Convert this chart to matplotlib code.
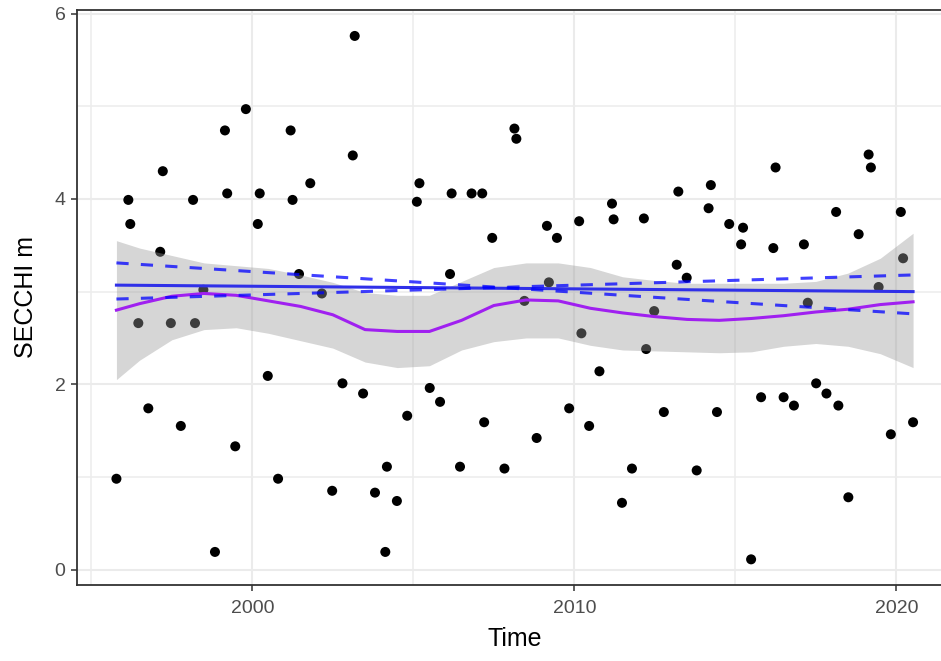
import matplotlib
matplotlib.use("Agg")
import matplotlib.pyplot as plt
from matplotlib.ticker import MultipleLocator

# ---- data ----
time = [1995.78, 1996.15, 1996.21, 1996.46, 1996.77, 1997.14, 1997.22, 1997.47, 1997.78, 1998.16,
        1998.22, 1998.48, 1998.84, 1999.15, 1999.22, 1999.47, 1999.80, 2000.17, 2000.23, 2000.48,
        2000.80, 2001.19, 2001.25, 2001.45, 2001.80, 2002.16, 2002.48, 2002.80, 2003.12, 2003.18,
        2003.44, 2003.81, 2004.13, 2004.18, 2004.49, 2004.81, 2005.11, 2005.19, 2005.51, 2005.83,
        2006.14, 2006.19, 2006.45, 2006.81, 2007.14, 2007.20, 2007.45, 2007.83, 2008.14, 2008.20,
        2008.45, 2008.83, 2009.15, 2009.21, 2009.46, 2009.84, 2010.15, 2010.22, 2010.46, 2010.78,
        2011.17, 2011.22, 2011.48, 2011.79, 2012.16, 2012.23, 2012.48, 2012.78, 2013.18, 2013.23,
        2013.49, 2013.80, 2014.17, 2014.24, 2014.43, 2014.81, 2015.18, 2015.24, 2015.49, 2015.80,
        2016.18, 2016.25, 2016.50, 2016.82, 2017.13, 2017.25, 2017.51, 2017.83, 2018.13, 2018.20,
        2018.51, 2018.83, 2019.14, 2019.21, 2019.45, 2019.83, 2020.14, 2020.21, 2020.52]
secchi = [0.98, 3.99, 3.73, 2.66, 1.74, 3.43, 4.30, 2.66, 1.55, 3.99,
          2.66, 3.02, 0.19, 4.74, 4.06, 1.33, 4.97, 3.73, 4.06, 2.09,
          0.98, 4.74, 3.99, 3.19, 4.17, 2.98, 0.85, 2.01, 4.47, 5.76,
          1.90, 0.83, 0.19, 1.11, 0.74, 1.66, 3.97, 4.17, 1.96, 1.81,
          3.19, 4.06, 1.11, 4.06, 4.06, 1.59, 3.58, 1.09, 4.76, 4.65,
          2.90, 1.42, 3.71, 3.10, 3.58, 1.74, 3.76, 2.55, 1.55, 2.14,
          3.95, 3.78, 0.72, 1.09, 3.79, 2.38, 2.79, 1.70, 3.29, 4.08,
          3.15, 1.07, 3.90, 4.15, 1.70, 3.73, 3.51, 3.69, 0.11, 1.86,
          3.47, 4.34, 1.86, 1.77, 3.51, 2.88, 2.01, 1.90, 3.86, 1.77,
          0.78, 3.62, 4.48, 4.34, 3.05, 1.46, 3.86, 3.36, 1.59]

# loess smooth and its confidence band
smooth_time = [1995.78, 1996.5, 1997.5, 1998.5, 1999.5, 2000.5, 2001.5, 2002.5, 2003.5, 2004.5,
               2005.5, 2006.5, 2007.5, 2008.5, 2009.5, 2010.5, 2011.5, 2012.5, 2013.5, 2014.5,
               2015.5, 2016.5, 2017.5, 2018.5, 2019.5, 2020.52]
smooth_fit = [2.80, 2.87, 2.95, 2.98, 2.96, 2.90, 2.84, 2.75, 2.59, 2.57,
              2.57, 2.69, 2.85, 2.91, 2.90, 2.82, 2.77, 2.73, 2.70, 2.69,
              2.71, 2.74, 2.78, 2.81, 2.86, 2.89]
smooth_hi = [3.55, 3.47, 3.39, 3.31, 3.28, 3.25, 3.18, 3.10, 2.99, 2.96,
             2.96, 3.11, 3.26, 3.31, 3.31, 3.26, 3.16, 3.12, 3.09, 3.09,
             3.09, 3.09, 3.11, 3.20, 3.36, 3.63]
smooth_lo = [2.05, 2.26, 2.48, 2.59, 2.61, 2.55, 2.47, 2.39, 2.24, 2.18,
             2.20, 2.37, 2.46, 2.50, 2.50, 2.42, 2.37, 2.36, 2.35, 2.34,
             2.35, 2.41, 2.44, 2.41, 2.33, 2.18]

# linear trend and trend-slope confidence lines (start, end)
trend_time = [1995.78, 2020.52]
trend_fit = [3.07, 3.00]
trend_upper_start = [3.31, 2.76]
trend_lower_start = [2.92, 3.18]

# ---- plot ----
plt.rcParams['font.family'] = ['Liberation Sans', 'DejaVu Sans']
fig = plt.figure(figsize=(9.41, 6.61), dpi=100)
ax = fig.add_axes([76.5 / 941, 76 / 661, (953 - 76.5) / 941, (585 - 10) / 661])

ax.set_xlim(1994.54, 2021.76)
ax.set_ylim(-0.167, 6.04)

ax.xaxis.set_major_locator(MultipleLocator(10))
ax.xaxis.set_minor_locator(MultipleLocator(5))
ax.yaxis.set_major_locator(MultipleLocator(2))
ax.yaxis.set_minor_locator(MultipleLocator(1))
ax.grid(which='major', color='#EBEBEB', lw=1.5, zorder=0)
ax.grid(which='minor', color='#EDEDED', lw=1.2, zorder=0)
ax.set_axisbelow(True)

ax.scatter(time, secchi, s=52, color='black', edgecolors='none', zorder=2)
ax.fill_between(smooth_time, smooth_lo, smooth_hi, color='#999999', alpha=0.4,
                linewidth=0, zorder=3)
ax.plot(smooth_time, smooth_fit, color='#A020F0', lw=2.2, zorder=4)
ax.plot(trend_time, trend_fit, color='#3030E8', lw=2.2, zorder=5)
ax.plot(trend_time, trend_upper_start, color='blue', lw=2.2, ls=(0, (4, 4)),
        alpha=0.75, zorder=5)
ax.plot(trend_time, trend_lower_start, color='blue', lw=2.2, ls=(0, (4, 4)),
        alpha=0.75, zorder=5)

for s in ax.spines.values():
    s.set_color('#333333')
    s.set_linewidth(1.3)
ax.spines['right'].set_visible(False)

ax.tick_params(which='major', length=4, width=1.1, color='#333333',
               labelsize=14, labelcolor='#4D4D4D')
ax.tick_params(axis='x', which='major', pad=7)
ax.tick_params(axis='y', which='major', pad=4)
ax.tick_params(which='minor', length=0)

ax.set_xlabel('Time', fontsize=18, color='black', labelpad=7)
ax.set_ylabel('SECCHI m', fontsize=18, color='black', labelpad=12)

fig.savefig('out.png', dpi=100)
